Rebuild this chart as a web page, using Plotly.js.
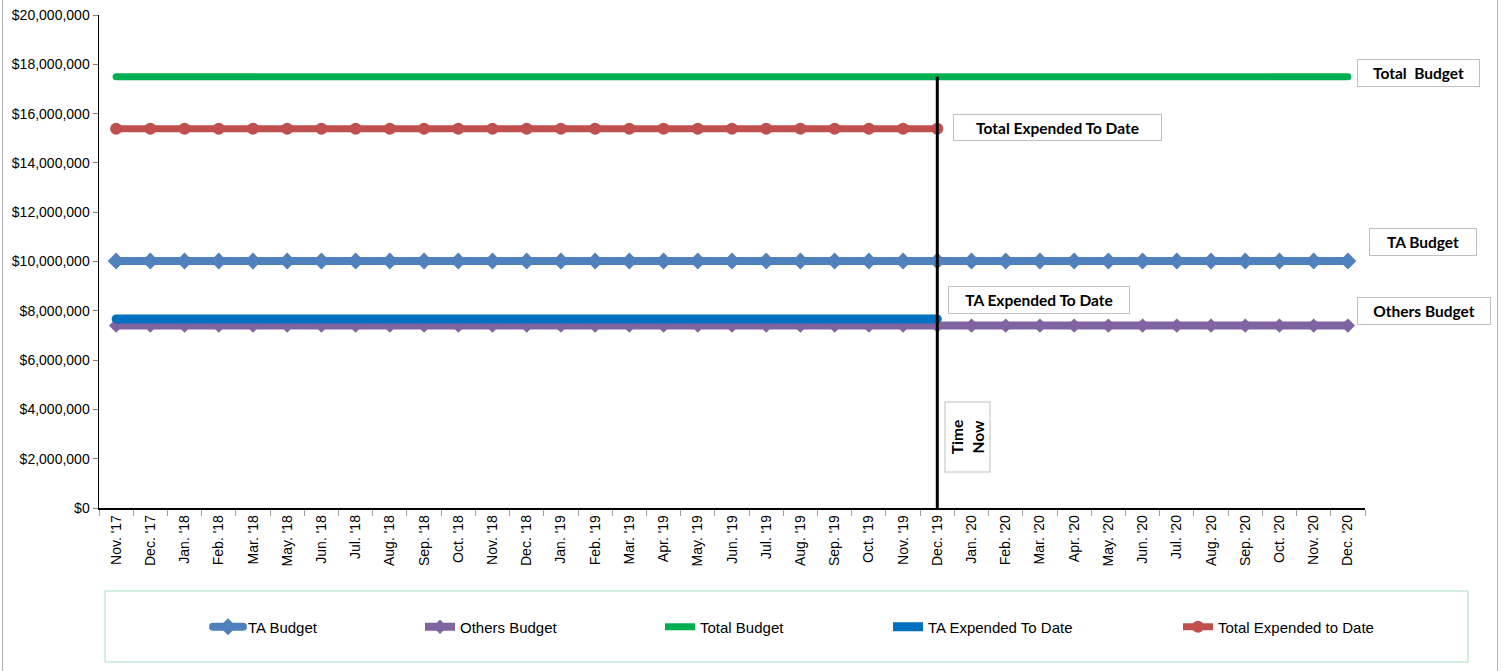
<!DOCTYPE html>
<html>
<head>
<meta charset="utf-8">
<script src="https://cdn.plot.ly/plotly-3.0.1.min.js"></script>
<style>
  html, body { margin: 0; padding: 0; background: #fff; }
  #chart { width: 1505px; height: 671px; }
  .scatterlayer .js-line, .legend .js-line { stroke-linecap: round; }
</style>
</head>
<body>
<div id="chart"></div>
<script>
// ---------------- DATA ----------------
const categories = [
  "Nov. '17", "Dec. '17", "Jan. '18", "Feb. '18", "Mar. '18", "May. '18", "Jun. '18",
  "Jul. '18", "Aug. '18", "Sep. '18", "Oct. '18", "Nov. '18", "Dec. '18", "Jan. '19",
  "Feb. '19", "Mar. '19", "Apr. '19", "May. '19", "Jun. '19", "Jul. '19", "Aug. '19",
  "Sep. '19", "Oct. '19", "Nov. '19", "Dec. '19", "Jan. '20", "Feb. '20", "Mar. '20",
  "Apr. '20", "May. '20", "Jun. '20", "Jul. '20", "Aug. '20", "Sep. '20", "Oct. '20",
  "Nov. '20", "Dec. '20"
];

const taBudget = [
  10020000, 10020000, 10020000, 10020000, 10020000, 10020000, 10020000, 10020000,
  10020000, 10020000, 10020000, 10020000, 10020000, 10020000, 10020000, 10020000,
  10020000, 10020000, 10020000, 10020000, 10020000, 10020000, 10020000, 10020000,
  10020000, 10020000, 10020000, 10020000, 10020000, 10020000, 10020000, 10020000,
  10020000, 10020000, 10020000, 10020000, 10020000
];

const othersBudget = [
  7400000, 7400000, 7400000, 7400000, 7400000, 7400000, 7400000, 7400000,
  7400000, 7400000, 7400000, 7400000, 7400000, 7400000, 7400000, 7400000,
  7400000, 7400000, 7400000, 7400000, 7400000, 7400000, 7400000, 7400000,
  7400000, 7400000, 7400000, 7400000, 7400000, 7400000, 7400000, 7400000,
  7400000, 7400000, 7400000, 7400000, 7400000
];

const totalBudget = [
  17500000, 17500000, 17500000, 17500000, 17500000, 17500000, 17500000, 17500000,
  17500000, 17500000, 17500000, 17500000, 17500000, 17500000, 17500000, 17500000,
  17500000, 17500000, 17500000, 17500000, 17500000, 17500000, 17500000, 17500000,
  17500000, 17500000, 17500000, 17500000, 17500000, 17500000, 17500000, 17500000,
  17500000, 17500000, 17500000, 17500000, 17500000
];

// Nov. '17 .. Dec. '19 (25 months)
const taExpended = [
  7670000, 7670000, 7670000, 7670000, 7670000, 7670000, 7670000, 7670000,
  7670000, 7670000, 7670000, 7670000, 7670000, 7670000, 7670000, 7670000,
  7670000, 7670000, 7670000, 7670000, 7670000, 7670000, 7670000, 7670000,
  7670000
];

const totalExpended = [
  15390000, 15390000, 15390000, 15390000, 15390000, 15390000, 15390000, 15390000,
  15390000, 15390000, 15390000, 15390000, 15390000, 15390000, 15390000, 15390000,
  15390000, 15390000, 15390000, 15390000, 15390000, 15390000, 15390000, 15390000,
  15390000
];

const seriesNames = ["TA Budget", "Others Budget", "Total Budget", "TA Expended To Date", "Total Expended to Date"];
const timeNowCategory = "Dec. '19";
const timeNowTop = 17500000;

const yTickVals = [0, 2000000, 4000000, 6000000, 8000000, 10000000, 12000000, 14000000, 16000000, 18000000, 20000000];
const yTickText = ["$0", "$2,000,000", "$4,000,000", "$6,000,000", "$8,000,000", "$10,000,000",
                   "$12,000,000", "$14,000,000", "$16,000,000", "$18,000,000", "$20,000,000"];

// ---------------- LAYOUT HELPERS ----------------
const W = 1505, H = 671;
const M = { l: 99, r: 140, t: 15, b: 163 };
const PW = W - M.l - M.r, PH = H - M.t - M.b;
const px = x => (x - M.l) / PW;
const py = y => (H - M.b - y) / PH;

const yTickFont = { family: "Liberation Sans", size: 14, color: "#000" };
const xTickFont = { family: "Liberation Sans", size: 14, color: "#000" };
const legendFont = { family: "Liberation Sans", size: 15, color: "#000" };
const boxFont = { family: "Lato", size: 15.5, color: "#000", weight: "bold" };

const traces = [
  { x: categories, y: taBudget, name: seriesNames[0], mode: "lines+markers", legend: "legend",
    line: { color: "#4F81BD", width: 8 }, marker: { symbol: "diamond", size: 13, color: "#4F81BD" } },
  { x: categories, y: othersBudget, name: seriesNames[1], mode: "lines+markers", legend: "legend2",
    line: { color: "#8064A2", width: 8 }, marker: { symbol: "diamond", size: 11, color: "#8064A2" } },
  { x: categories, y: totalBudget, name: seriesNames[2], mode: "lines", legend: "legend3",
    line: { color: "#00B050", width: 7 } },
  { x: categories, y: taExpended, name: seriesNames[3], mode: "lines", legend: "legend4",
    line: { color: "#0070C0", width: 9 } },
  { x: categories, y: totalExpended, name: seriesNames[4], mode: "lines+markers", legend: "legend5",
    line: { color: "#C0504D", width: 7 }, marker: { symbol: "circle", size: 12, color: "#C0504D" } }
];

const legendY = py(627);
function leg(symStart) {
  return { x: px(symStart - 5), y: legendY, xanchor: "left", yanchor: "middle",
           orientation: "h", font: legendFont, bgcolor: "rgba(0,0,0,0)", borderwidth: 0 };
}

function box(text, cx, cy, w, h, angle) {
  return { xref: "paper", yref: "paper", x: px(cx), y: py(cy), xanchor: "center", yanchor: "middle",
           text: text, showarrow: false, font: boxFont, bgcolor: "#fff",
           bordercolor: "#bfbfbf", borderwidth: 1, borderpad: 0,
           width: w, height: h, textangle: angle || 0, align: "center", valign: "middle" };
}

const layout = {
  width: W, height: H,
  margin: M,
  paper_bgcolor: "#fff", plot_bgcolor: "#fff",
  showlegend: true,
  hovermode: false,
  xaxis: {
    type: "category",
    range: [-0.5, categories.length - 0.5],
    tickangle: -90,
    tickfont: xTickFont,
    ticks: "outside", tickson: "boundaries", ticklen: 6, tickcolor: "#a0a0a0", tickwidth: 1,
    showline: true, linecolor: "#000", linewidth: 1.5,
    showgrid: false, zeroline: false, fixedrange: true
  },
  yaxis: {
    range: [0, 20000000],
    tickmode: "array",
    tickvals: yTickVals,
    ticktext: yTickText,
    tickfont: yTickFont,
    ticks: "outside", ticklen: 5, tickcolor: "#808080", tickwidth: 1,
    showline: true, linecolor: "#000", linewidth: 1.5,
    showgrid: false, zeroline: false, fixedrange: true
  },
  legend: leg(213),
  legend2: leg(425),
  legend3: leg(665),
  legend4: leg(893),
  legend5: leg(1183),
  shapes: [
    // time-now marker
    { type: "line", xref: "x", yref: "y", x0: timeNowCategory, x1: timeNowCategory,
      y0: 0, y1: timeNowTop, line: { color: "#000", width: 3 }, layer: "above" },
    // legend frame
    { type: "rect", xref: "paper", yref: "paper", x0: px(105), x1: px(1468), y0: py(662), y1: py(591),
      line: { color: "#a8e0c2", width: 1 }, fillcolor: "rgba(0,0,0,0)", layer: "below" },
    // outer chart frame (left / right edges)
    { type: "line", xref: "paper", yref: "paper", x0: px(2.5), x1: px(2.5), y0: py(671), y1: py(0),
      line: { color: "#b3b3b3", width: 1 } },
    { type: "line", xref: "paper", yref: "paper", x0: px(1497.5), x1: px(1497.5), y0: py(671), y1: py(0),
      line: { color: "#b3b3b3", width: 1 } }
  ],
  annotations: [
    box("Total  Budget", 1418.5, 73, 121, 26),
    box("TA Budget", 1423, 242, 106, 26),
    box("Others Budget", 1424, 311, 132, 26),
    box("Total Expended To Date", 1057.5, 127.5, 207, 25),
    box("TA Expended To Date", 1039, 300, 180, 26),
    box("Time<br>Now", 967, 437.5, 69, 44, -90)
  ]
};

Plotly.newPlot("chart", traces, layout, { staticPlot: true, displayModeBar: false });
</script>
</body>
</html>
